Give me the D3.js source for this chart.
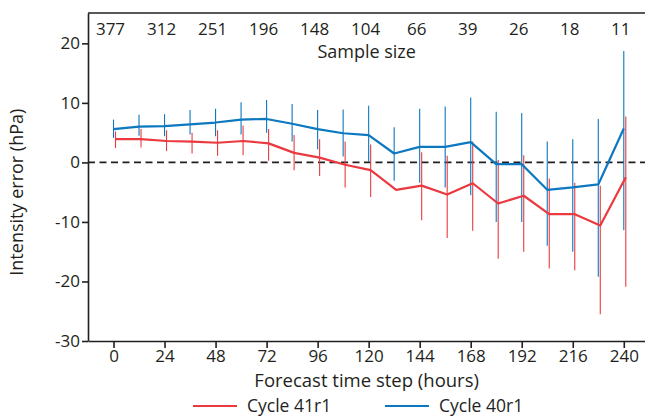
<!DOCTYPE html>
<html>
<head>
<meta charset="utf-8">
<script src="https://cdn.jsdelivr.net/npm/d3@7"></script>
<style>
  html, body { margin: 0; padding: 0; background: #fff; }
  svg { display: block; font-family: "Open Sans", "Noto Sans", sans-serif; }
</style>
</head>
<body>
<svg id="chart" width="645" height="418"></svg>
<script>
// Forecast lead times (hours)
const hours = [0, 12, 24, 36, 48, 60, 72, 84, 96, 108, 120, 132, 144, 156, 168, 180, 192, 204, 216, 228, 240];

// Cycle 40r1: mean intensity error and error-bar extent (hPa)
const mean40 = [5.6, 6.0, 6.1, 6.4, 6.7, 7.2, 7.3, 6.5, 5.6, 4.9, 4.6, 1.5, 2.6, 2.6, 3.4, -0.3, -0.3, -4.6, -4.2, -3.7, 5.7];
const upper40 = [7.2, 8.0, 8.1, 8.8, 9.0, 10.1, 10.5, 9.8, 8.8, 8.9, 9.5, 5.9, 9.0, 9.4, 10.9, 8.5, 8.3, 3.5, 3.9, 7.3, 18.7];
const lower40 = [4.1, 4.5, 4.4, 4.7, 4.4, 4.7, 5.0, 3.5, 2.2, 1.0, 0.1, -3.1, -3.4, -4.2, -5.5, -10.0, -10.0, -14.0, -15.0, -19.2, -11.4];

// Cycle 41r1: mean intensity error and error-bar extent (hPa)
const mean41 = [3.9, 3.9, 3.6, 3.5, 3.3, 3.6, 3.2, 1.6, 0.8, -0.4, -1.3, -4.6, -3.9, -5.4, -3.5, -6.9, -5.6, -8.7, -8.7, -10.6, -2.5];
const upper41 = [5.2, 5.6, 5.4, 5.0, 5.4, 6.2, 5.6, 4.6, 3.9, 3.5, 3.0, null, 1.7, 1.1, 3.5, 0.4, 1.2, -2.7, -3.4, -3.9, 7.7];
const lower41 = [2.4, 2.5, 1.9, 1.5, 1.1, 1.2, 0.3, -1.3, -2.3, -4.2, -5.8, null, -9.7, -12.7, -11.5, -16.2, -15.0, -17.8, -18.1, -25.5, -20.9];

// Sample size per 24 h step
const sampleHours = [0, 24, 48, 72, 96, 120, 144, 168, 192, 216, 240];
const sampleSizes = [377, 312, 251, 196, 148, 104, 66, 39, 26, 18, 11];

const xTicks = [0, 24, 48, 72, 96, 120, 144, 168, 192, 216, 240];
const yTicks = [-30, -20, -10, 0, 10, 20];

const seriesNames = ["Cycle 41r1", "Cycle 40r1"];
const RED = "#ea3a3f", BLUE = "#0b78c0", INK = "#231f20";

const svg = d3.select("#chart");

const x = d3.scaleLinear().domain([-12, 252]).range([88, 649.3]);
const y = d3.scaleLinear().domain([-30, 25.1]).range([341, 13]);

const dodge = 2; // small horizontal offset so the two sets of bars do not overlap

// zero reference line
svg.append("line")
  .attr("x1", x(-12)).attr("x2", 645)
  .attr("y1", y(0)).attr("y2", y(0))
  .attr("stroke", INK).attr("stroke-width", 1.6)
  .attr("stroke-dasharray", "7,4.5");

function series(mean, lo, hi, color, dx) {
  const pts = hours.map((h, i) => ({ h, m: mean[i], lo: lo[i], hi: hi[i] }));
  svg.append("g").selectAll("line")
    .data(pts.filter(d => d.lo !== null && d.hi !== null))
    .join("line")
    .attr("x1", d => x(d.h) + dx).attr("x2", d => x(d.h) + dx)
    .attr("y1", d => y(d.hi)).attr("y2", d => y(d.lo))
    .attr("stroke", color).attr("stroke-width", 1.1);
  return pts;
}

const p40 = series(mean40, lower40, upper40, BLUE, 0);
const p41 = series(mean41, lower41, upper41, RED, dodge);

const lineGen = dx => d3.line().x(d => x(d.h) + dx).y(d => y(d.m));
svg.append("path").datum(p40).attr("d", lineGen(0))
  .attr("fill", "none").attr("stroke", BLUE).attr("stroke-width", 2.2).attr("stroke-linejoin", "round");
svg.append("path").datum(p41).attr("d", lineGen(dodge))
  .attr("fill", "none").attr("stroke", RED).attr("stroke-width", 2.2).attr("stroke-linejoin", "round");

// axes (plain hyphen for negative tick labels)
const plain = d => String(d);
const yAxis = svg.append("g").attr("transform", `translate(${x(-12)},0)`)
  .call(d3.axisLeft(y).tickValues(yTicks).tickFormat(plain).tickSize(6).tickSizeOuter(0).tickPadding(2));
const xAxis = svg.append("g").attr("transform", `translate(0,${y(-30)})`)
  .call(d3.axisBottom(x).tickValues(xTicks).tickFormat(plain).tickSize(7).tickSizeOuter(0).tickPadding(2));
[yAxis, xAxis].forEach(g => {
  g.selectAll("path, line").attr("stroke", INK).attr("stroke-width", 1.6);
  g.selectAll("text").attr("fill", INK).style("font-size", "17px")
    .style("font-family", "'Open Sans', sans-serif");
});
// top frame line
svg.append("line")
  .attr("x1", x(-12)).attr("x2", 645).attr("y1", y(25.1)).attr("y2", y(25.1))
  .attr("stroke", INK).attr("stroke-width", 1.6);

// sample size row
svg.append("g").selectAll("text")
  .data(sampleHours.map((h, i) => ({ h, n: sampleSizes[i] })))
  .join("text")
  .attr("x", d => x(d.h) - 3).attr("y", 35)
  .attr("text-anchor", "middle").attr("fill", INK).style("font-size", "17px")
  .text(d => d.n);
svg.append("text").attr("x", x(120) - 2).attr("y", 58)
  .attr("text-anchor", "middle").attr("fill", INK).style("font-size", "18px")
  .text("Sample size");

// axis titles
svg.append("text").attr("x", x(120) - 2).attr("y", 387)
  .attr("text-anchor", "middle").attr("fill", INK).style("font-size", "18.5px")
  .text("Forecast time step (hours)");
svg.append("text")
  .attr("transform", `translate(23,${y(-5)}) rotate(-90)`)
  .attr("text-anchor", "middle").attr("fill", INK).style("font-size", "18px")
  .text("Intensity error (hPa)");

// legend
const legend = [
  { name: seriesNames[0], color: RED, x0: 193 },
  { name: seriesNames[1], color: BLUE, x0: 385 }
];
const lg = svg.append("g").selectAll("g").data(legend).join("g")
  .attr("transform", d => `translate(${d.x0},406)`);
lg.append("line").attr("x1", 0).attr("x2", 44).attr("y1", 0).attr("y2", 0)
  .attr("stroke", d => d.color).attr("stroke-width", 2.2);
lg.append("text").attr("x", 54).attr("y", 6).attr("fill", INK).style("font-size", "17.5px")
  .text(d => d.name);
</script>
</body>
</html>
